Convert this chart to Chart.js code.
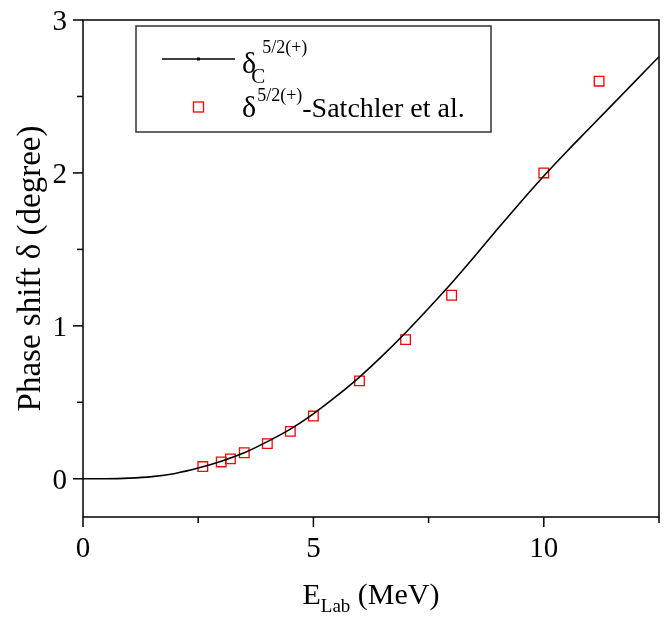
<!DOCTYPE html>
<html>
<head>
<meta charset="utf-8">
<script src="https://cdn.jsdelivr.net/npm/chart.js@4/dist/chart.umd.min.js"></script>
<style>
  html, body { margin: 0; padding: 0; background: #fff; }
  #wrap { width: 668px; height: 619px; }
</style>
</head>
<body>
<div id="wrap"><canvas id="phaseChart"></canvas></div>
<script>
// Calculated curve delta_C^{5/2(+)}
const energyCurve = [0, 0.5, 1, 1.5, 2, 2.5, 3, 3.5, 4, 4.5, 5, 5.5, 6, 6.5, 7, 7.5, 8, 8.5, 9, 9.5, 10, 10.5, 11, 11.5, 12, 12.5];
const deltaCurve = [0, 0.0003, 0.004, 0.014, 0.035, 0.07, 0.115, 0.17, 0.243, 0.325, 0.425, 0.54, 0.665, 0.805, 0.955, 1.115, 1.28, 1.455, 1.635, 1.81, 1.98, 2.14, 2.295, 2.45, 2.605, 2.76];

// Satchler et al. values
const energySatchler = [2.6, 3.0, 3.2, 3.5, 4.0, 4.5, 5.0, 6.0, 7.0, 8.0, 10.0, 11.2];
const deltaSatchler = [0.08, 0.11, 0.13, 0.17, 0.23, 0.31, 0.41, 0.64, 0.91, 1.20, 2.00, 2.60];

// Axis ticks
const xTickLabels = [0, 5, 10];
const yTickLabels = [0, 1, 2, 3];

const FONT = '"Liberation Serif", "Times New Roman", serif';

function txt(ctx, s, x, y, size, align) {
    ctx.font = size + 'px ' + FONT;
    ctx.textAlign = align || 'left';
    ctx.textBaseline = 'alphabetic';
    ctx.fillText(s, x, y);
    return ctx.measureText(s).width;
}

// Draws frame, tick marks, tick labels, axis titles and the legend
const decorPlugin = {
    id: 'decor',
    afterDraw(chart) {
        const ctx = chart.ctx;
        const a = chart.chartArea;
        const xs = chart.scales.x, ys = chart.scales.y;
        ctx.save();
        ctx.fillStyle = '#000';
        ctx.strokeStyle = '#000';
        ctx.lineWidth = 1.5;

        // frame
        ctx.strokeRect(a.left, a.top, a.right - a.left, a.bottom - a.top);

        // x ticks
        xs.ticks.forEach(t => {
            const px = xs.getPixelForValue(t.value);
            const major = xTickLabels.includes(t.value);
            ctx.beginPath();
            ctx.moveTo(px, a.bottom);
            ctx.lineTo(px, a.bottom + (major ? 10 : 6));
            ctx.stroke();
            if (major) txt(ctx, String(t.value), px, a.bottom + 40, 29, 'center');
        });
        // y ticks
        ys.ticks.forEach(t => {
            if (Math.abs(t.value * 2 - Math.round(t.value * 2)) > 1e-6) return;
            const py = ys.getPixelForValue(t.value);
            const major = yTickLabels.includes(t.value);
            ctx.beginPath();
            ctx.moveTo(a.left, py);
            ctx.lineTo(a.left - (major ? 10 : 6), py);
            ctx.stroke();
            if (major) txt(ctx, String(t.value), a.left - 16, py + 10, 29, 'right');
        });

        // x title: E_Lab (MeV)
        const cx = (a.left + a.right) / 2;
        ctx.font = '30px ' + FONT;
        const wE = ctx.measureText('E').width;
        ctx.font = '19px ' + FONT;
        const wLab = ctx.measureText('Lab').width;
        ctx.font = '30px ' + FONT;
        const wRest = ctx.measureText(' (MeV)').width;
        let x0 = cx - (wE + wLab + wRest) / 2;
        const by = 604;
        x0 += txt(ctx, 'E', x0, by, 30);
        x0 += txt(ctx, 'Lab', x0, by + 8, 19);
        txt(ctx, ' (MeV)', x0, by, 30);

        // y title
        ctx.save();
        ctx.translate(40, (a.top + a.bottom) / 2);
        ctx.rotate(-Math.PI / 2);
        txt(ctx, 'Phase shift \u03b4 (degree)', 0, 0, 33, 'center');
        ctx.restore();

        // legend box
        const lx = a.left + 53, ly = a.top + 6;
        ctx.strokeStyle = '#333';
        ctx.lineWidth = 1.5;
        ctx.strokeRect(lx, ly, 355, 106);
        // row 1: line sample
        ctx.strokeStyle = '#000';
        ctx.lineWidth = 1.5;
        ctx.beginPath();
        ctx.moveTo(lx + 26, ly + 33);
        ctx.lineTo(lx + 99, ly + 33);
        ctx.stroke();
        ctx.fillRect(lx + 61, ly + 31.5, 3, 3);
        let tx = lx + 106;
        tx += txt(ctx, '\u03b4', tx, ly + 47, 30);
        txt(ctx, 'C', tx - 5, ly + 57, 21);
        txt(ctx, '5/2(+)', tx + 6, ly + 27, 18);
        // row 2: red square
        ctx.strokeStyle = '#ff0000';
        ctx.lineWidth = 1.3;
        ctx.strokeRect(lx + 57.5, ly + 76, 10, 10);
        tx = lx + 106;
        tx += txt(ctx, '\u03b4', tx, ly + 91, 30);
        tx += txt(ctx, '5/2(+)', tx + 1, ly + 75, 18) + 1;
        txt(ctx, '-Satchler et al.', tx, ly + 91, 28);

        ctx.restore();
    }
};

const ctx = document.getElementById('phaseChart').getContext('2d');
new Chart(ctx, {
    data: {
        datasets: [
            {
                type: 'line',
                label: 'deltaC',
                data: energyCurve.map((e, i) => ({ x: e, y: deltaCurve[i] })),
                borderColor: '#000',
                borderWidth: 1.6,
                pointRadius: 0,
                cubicInterpolationMode: 'monotone',
                fill: false
            },
            {
                type: 'scatter',
                label: 'Satchler',
                data: energySatchler.map((e, i) => ({ x: e, y: deltaSatchler[i] })),
                pointStyle: 'rect',
                pointRadius: 6.8,
                borderColor: '#ff0000',
                backgroundColor: 'rgba(0,0,0,0)',
                borderWidth: 1.3
            }
        ]
    },
    options: {
        responsive: true,
        maintainAspectRatio: false,
        animation: false,
        layout: { padding: { top: 20, right: 9, left: 0, bottom: 0 } },
        plugins: { legend: { display: false }, tooltip: { enabled: false } },
        scales: {
            x: {
                type: 'linear',
                min: 0, max: 12.5,
                ticks: { stepSize: 2.5, display: false, autoSkip: false },
                grid: { display: false },
                border: { display: false },
                afterFit(s) { s.height = 102; }
            },
            y: {
                type: 'linear',
                min: -0.25, max: 3,
                ticks: { stepSize: 0.5, display: false, autoSkip: false },
                grid: { display: false },
                border: { display: false },
                afterFit(s) { s.width = 83; }
            }
        }
    },
    plugins: [decorPlugin]
});
</script>
</body>
</html>
